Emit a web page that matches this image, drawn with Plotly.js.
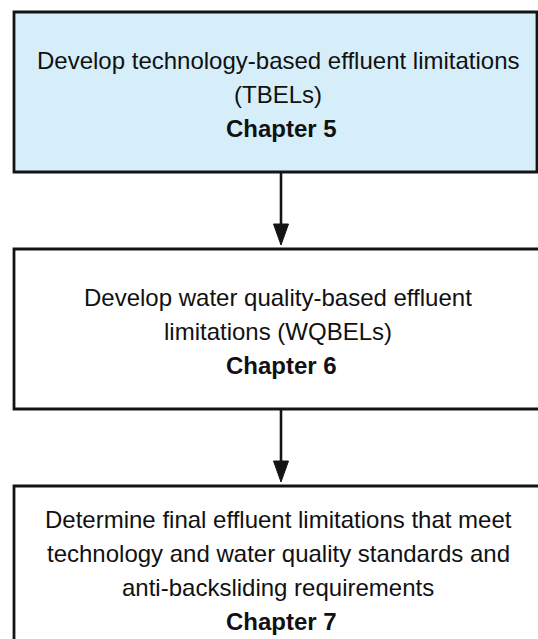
<!DOCTYPE html>
<html>
<head>
<meta charset="utf-8">
<script src="https://cdn.plot.ly/plotly-3.0.1.min.js"></script>
<style>html,body{margin:0;padding:0;background:#fff;}#chart{width:538px;height:639px;}</style>
</head>
<body>
<div id="chart"></div>
<script>
// ---- data ----
const stepLines = [
  ["Develop technology-based effluent limitations", "(TBELs)"],
  ["Develop water quality-based effluent", "limitations (WQBELs)"],
  ["Determine final effluent limitations that meet", "technology and water quality standards and", "anti-backsliding requirements"]
];
const chapters = ["Chapter 5", "Chapter 6", "Chapter 7"];

// ---- layout geometry (pixels) ----
const W = 538, H = 639;
const boxLeft = 14;
const boxRight = [537, 548, 548];
const boxTop = [12, 249, 486];
const boxBottom = [172, 409, 700];
const textMid = [94, 331, 570];
const lineGap = 34;
const arrowX = 281;
const textX = 278;
const headLen = 21, headHalf = 7.5;

const fills = ["#d6eefa", "#ffffff", "#ffffff"];
const edge = "#141414";
const regFont = {family: "Liberation Sans, Arial, sans-serif", size: 24, color: "#111"};
const boldFont = {family: "Liberation Sans, Arial, sans-serif", size: 24, color: "#111", weight: "bold"};

const shapes = [];
const annotations = [];

stepLines.forEach((lines, i) => {
  shapes.push({type: "rect", xref: "x", yref: "y", x0: boxLeft, x1: boxRight[i], y0: boxTop[i], y1: boxBottom[i],
    fillcolor: fills[i], line: {color: edge, width: 2.8}, layer: "below"});
  const all = lines.concat([chapters[i]]);
  const n = all.length;
  all.forEach((t, k) => {
    const y = textMid[i] + (k - (n - 1) / 2) * lineGap;
    const isChap = k === n - 1;
    annotations.push({xref: "x", yref: "y", x: isChap ? arrowX : textX, y: y, xanchor: "center", yanchor: "middle",
      text: isChap ? "<b>" + t + "</b>" : t, showarrow: false, font: isChap ? boldFont : regFont});
  });
  if (i < stepLines.length - 1) {
    const y0 = boxBottom[i], tip = boxTop[i + 1] - 4;
    shapes.push({type: "line", xref: "x", yref: "y", x0: arrowX, x1: arrowX, y0: y0, y1: tip - headLen + 2,
      line: {color: edge, width: 2.6}});
    shapes.push({type: "path", xref: "x", yref: "y",
      path: `M ${arrowX - headHalf} ${tip - headLen} L ${arrowX + headHalf} ${tip - headLen} L ${arrowX} ${tip} Z`,
      fillcolor: edge, line: {color: edge, width: 1}});
  }
});

const layout = {
  width: W, height: H,
  margin: {l: 0, r: 0, t: 0, b: 0},
  paper_bgcolor: "#ffffff", plot_bgcolor: "#ffffff",
  xaxis: {range: [0, W], visible: false, fixedrange: true},
  yaxis: {range: [H, 0], visible: false, fixedrange: true},
  showlegend: false,
  shapes: shapes,
  annotations: annotations
};

Plotly.newPlot("chart", [{type: "scatter", x: [], y: [], hoverinfo: "skip"}], layout, {staticPlot: true, displayModeBar: false});
</script>
</body>
</html>
